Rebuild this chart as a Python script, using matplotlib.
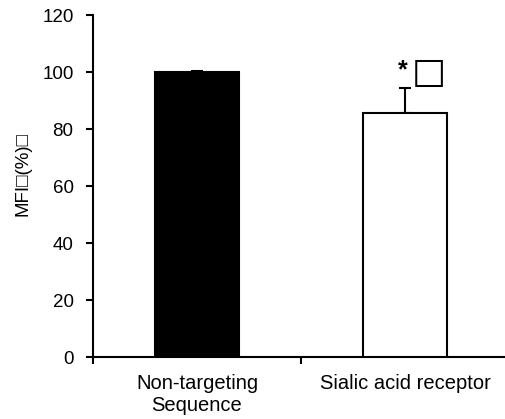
import matplotlib.pyplot as plt

plt.rcParams['font.family'] = ['Liberation Sans', 'DejaVu Sans']

# data
groups = ['Non-targeting\nSequence', 'Sialic acid receptor']
mfi = [100.0, 85.5]
err = [0.5, 9.0]
colors = ['black', 'white']
yticks = [0, 20, 40, 60, 80, 100, 120]

fig = plt.figure(figsize=(5.05, 4.19), dpi=100)
ax = fig.add_axes([93/505, 62/419, 416/505, 342/419])

xpos = [0.5, 1.5]
ax.bar(xpos, mfi, width=0.40, color=colors, edgecolor='black', linewidth=1.5,
       yerr=[[0, 0], err], zorder=3,
       error_kw=dict(ecolor='black', elinewidth=1.5, capsize=4, capthick=1.5, zorder=2))

ax.set_xlim(0, 2)
ax.set_ylim(0, 120)
ax.set_yticks(yticks)
ax.set_xticks([0, 1, 2])
ax.set_xticklabels([])
ax.set_xticks(xpos, minor=True)
ax.set_xticklabels(groups, minor=True, fontsize=14.5)
ax.tick_params(axis='x', which='minor', length=0, pad=12)
ax.tick_params(axis='both', which='major', direction='out', length=5, width=1.5, labelsize=13.5)
ax.tick_params(axis='y', pad=9)

for s in ['top', 'right']:
    ax.spines[s].set_visible(False)
for s in ['left', 'bottom']:
    ax.spines[s].set_linewidth(1.5)

ax.set_ylabel('MFI\u25a1(%)\u25a1', fontsize=13.5)
ax.yaxis.set_label_coords(-0.147, 0.535)

# significance mark
ax.text(1.49, 100.5, '*', fontsize=18, ha='center', va='center', fontweight='bold')
ax.text(1.615, 99.6, '\u25a1', fontsize=26, ha='center', va='center', family='DejaVu Sans')

fig.savefig('out.png', dpi=100)
